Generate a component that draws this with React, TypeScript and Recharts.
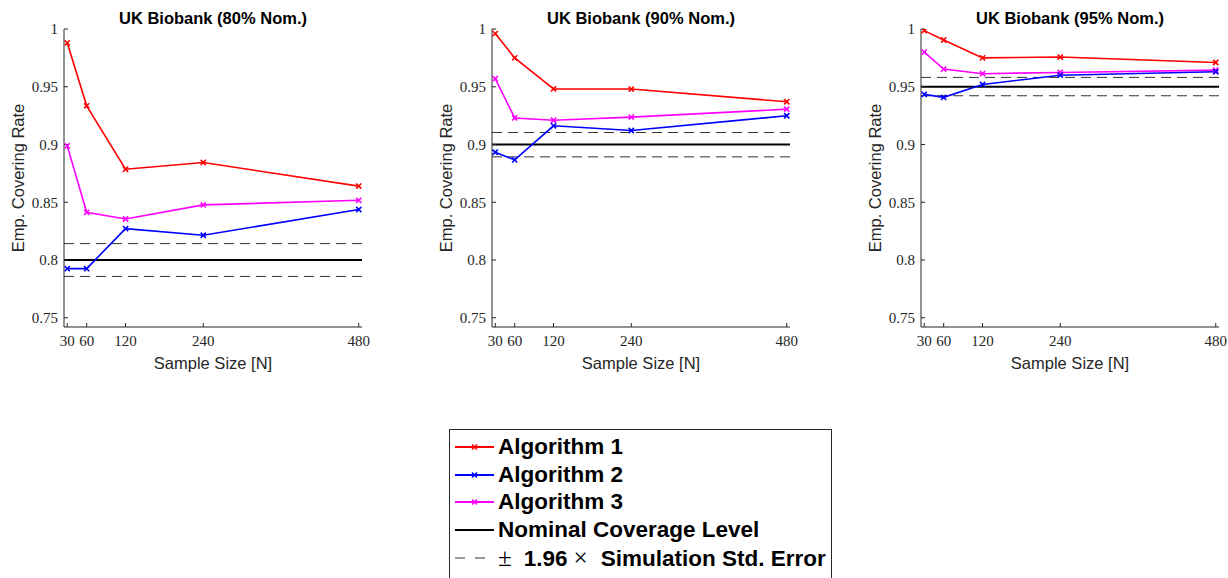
import React from 'react';
import { LineChart, Line, XAxis, YAxis, ReferenceLine } from 'recharts';

const sampleSizes = [30, 60, 120, 240, 480];
const yTicks = [0.75, 0.8, 0.85, 0.9, 0.95, 1];

const titles = ['UK Biobank (80% Nom.)', 'UK Biobank (90% Nom.)', 'UK Biobank (95% Nom.)'];
const nominalLevel = [0.8, 0.9, 0.95];
const upperBand = [0.8142, 0.9104, 0.9581];
const lowerBand = [0.7858, 0.8893, 0.9422];

// 80% nominal
const alg1_80 = [0.988, 0.9335, 0.8786, 0.8844, 0.864];
const alg2_80 = [0.7925, 0.7925, 0.8272, 0.8214, 0.8437];
const alg3_80 = [0.8988, 0.8413, 0.8355, 0.8477, 0.8517];
// 90% nominal
const alg1_90 = [0.996, 0.975, 0.9482, 0.948, 0.937];
const alg2_90 = [0.8933, 0.8867, 0.9162, 0.9121, 0.9249];
const alg3_90 = [0.957, 0.923, 0.921, 0.9237, 0.9306];
// 95% nominal
const alg1_95 = [0.9986, 0.9905, 0.975, 0.9757, 0.971];
const alg2_95 = [0.9434, 0.9408, 0.952, 0.96, 0.963];
const alg3_95 = [0.98, 0.9653, 0.9613, 0.9624, 0.9644];

const alg1 = [alg1_80, alg1_90, alg1_95];
const alg2 = [alg2_80, alg2_90, alg2_95];
const alg3 = [alg3_80, alg3_90, alg3_95];

const RED = '#ff0000';
const BLUE = '#0000ff';
const MAGENTA = '#ff00ff';
const AXIS = '#262626';
const SANS = '"Liberation Sans", Arial, sans-serif';
const SERIF = '"Liberation Serif", "Times New Roman", serif';

const panelLeft = [0, 428, 857];

const cross = (color: string) => (props: any) => {
  const { cx, cy, index } = props;
  if (cx == null || cy == null) return <g key={index} />;
  const s = 2.6;
  return (
    <path
      key={index}
      d={`M${cx - s},${cy - s}L${cx + s},${cy + s}M${cx + s},${cy - s}L${cx - s},${cy + s}`}
      stroke={color}
      strokeWidth={1.6}
      fill="none"
    />
  );
};

const Panel = ({ idx }: { idx: number }) => {
  const rows = sampleSizes.map((n, i) => ({
    n,
    a1: alg1[idx][i],
    a2: alg2[idx][i],
    a3: alg3[idx][i],
  }));
  return (
    <div style={{ position: 'absolute', left: panelLeft[idx], top: 0, width: 380, height: 380 }}>
      <div
        style={{
          position: 'absolute',
          left: 64,
          top: 7,
          width: 298,
          textAlign: 'center',
          fontFamily: SANS,
          fontWeight: 'bold',
          fontSize: 16.5,
          lineHeight: '22px',
          color: '#000',
        }}
      >
        {titles[idx]}
      </div>
      <LineChart
        width={380}
        height={380}
        data={rows}
        margin={{ top: 29, right: 18, bottom: 23, left: 0 }}
      >
        <XAxis
          dataKey="n"
          type="number"
          domain={[25, 485]}
          ticks={sampleSizes}
          interval={0}
          height={30}
          tickSize={-4}
          tickMargin={12}
          stroke={AXIS}
          tick={{ fontFamily: SERIF, fontSize: 15, fill: AXIS }}
          allowDataOverflow
        />
        <YAxis
          type="number"
          domain={[0.742, 1]}
          ticks={yTicks}
          interval={0}
          width={64}
          tickSize={-4}
          tickMargin={10}
          stroke={AXIS}
          tick={{ fontFamily: SERIF, fontSize: 15, fill: AXIS }}
          tickFormatter={(v: number) => String(v)}
          allowDataOverflow
        />
        <ReferenceLine y={upperBand[idx]} stroke="#333" strokeWidth={1} strokeDasharray="10 6" />
        <ReferenceLine y={lowerBand[idx]} stroke="#333" strokeWidth={1} strokeDasharray="10 6" />
        <ReferenceLine y={nominalLevel[idx]} stroke="#000" strokeWidth={2} />
        <Line type="linear" dataKey="a1" stroke={RED} strokeWidth={1.6} dot={cross(RED)} isAnimationActive={false} />
        <Line type="linear" dataKey="a3" stroke={MAGENTA} strokeWidth={1.6} dot={cross(MAGENTA)} isAnimationActive={false} />
        <Line type="linear" dataKey="a2" stroke={BLUE} strokeWidth={1.6} dot={cross(BLUE)} isAnimationActive={false} />
        <text
          x={213}
          y={363}
          textAnchor="middle"
          dominantBaseline="central"
          fontFamily={SANS}
          fontSize={16.5}
          fill={AXIS}
        >
          Sample Size [N]
        </text>
        <text
          x={18}
          y={178}
          transform="rotate(-90, 18, 178)"
          textAnchor="middle"
          dominantBaseline="central"
          fontFamily={SANS}
          fontSize={16.5}
          fill={AXIS}
        >
          Emp. Covering Rate
        </text>
      </LineChart>
    </div>
  );
};

const mathSym: React.CSSProperties = { fontFamily: SERIF, fontWeight: 'normal', fontSize: 25 };

const seLabel = (
  <>
    <span style={mathSym}>±</span>
    <span style={{ marginLeft: 12 }}>1.96</span>
    <span style={{ ...mathSym, marginLeft: 6 }}>×</span>
    <span style={{ marginLeft: 13 }}>Simulation Std. Error</span>
  </>
);

const legendItems = [
  { key: 'a1', label: 'Algorithm 1' as React.ReactNode, color: RED, marker: true, dashed: false },
  { key: 'a2', label: 'Algorithm 2' as React.ReactNode, color: BLUE, marker: true, dashed: false },
  { key: 'a3', label: 'Algorithm 3' as React.ReactNode, color: MAGENTA, marker: true, dashed: false },
  { key: 'nom', label: 'Nominal Coverage Level' as React.ReactNode, color: '#000', marker: false, dashed: false },
  { key: 'se', label: seLabel, color: '#333', marker: false, dashed: true },
];

const LegendBox = () => (
  <div
    style={{
      position: 'absolute',
      left: 449,
      top: 429,
      width: 381,
      height: 145,
      border: `1px solid ${AXIS}`,
      background: '#fff',
      paddingTop: 3,
      boxSizing: 'content-box',
    }}
  >
    {legendItems.map((it) => (
      <div key={it.key} style={{ display: 'flex', alignItems: 'center', height: 27.8 }}>
        <svg width={48} height={20} style={{ flex: 'none' }}>
          {it.dashed ? (
            <line x1={5} y1={10} x2={36} y2={10} stroke={it.color} strokeWidth={1} strokeDasharray="10 10" />
          ) : (
            <line x1={5} y1={10} x2={44} y2={10} stroke={it.color} strokeWidth={2} />
          )}
          {it.marker && (
            <path d="M22,7.5L27,12.5M27,7.5L22,12.5" stroke={it.color} strokeWidth={1.6} />
          )}
        </svg>
        <span
          style={{
            fontFamily: SANS,
            fontWeight: 'bold',
            fontSize: 22.5,
            color: '#000',
            whiteSpace: 'nowrap',
          }}
        >
          {it.label}
        </span>
      </div>
    ))}
  </div>
);

export default function App() {
  return (
    <div
      style={{
        position: 'absolute',
        left: 0,
        top: 0,
        width: 1228,
        height: 578,
        overflow: 'hidden',
        background: '#fff',
      }}
    >
      {[0, 1, 2].map((i) => (
        <Panel key={i} idx={i} />
      ))}
      <LegendBox />
    </div>
  );
}
